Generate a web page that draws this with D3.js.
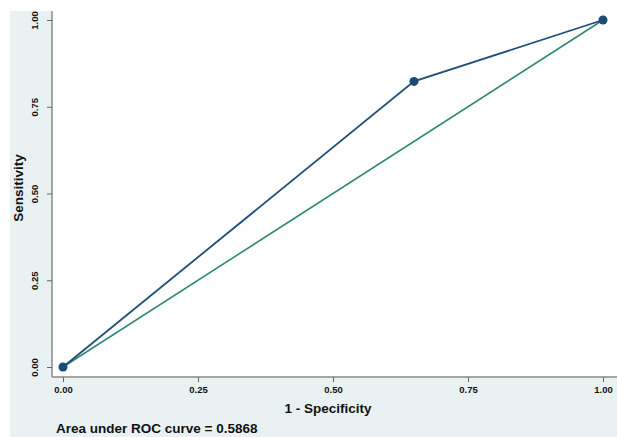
<!DOCTYPE html>
<html>
<head>
<meta charset="utf-8">
<script src="https://cdn.jsdelivr.net/npm/d3@7"></script>
<style>
  body { margin: 0; background: #fff; }
  text { font-family: "Liberation Sans", Arial, sans-serif; font-weight: bold; fill: #111; }
</style>
</head>
<body>
<script>
// ROC points (1 - specificity, sensitivity)
var fpr = [0, 0.65, 1];
var tpr = [0, 0.823, 1];
var refLine = [0, 1];
var tickValues = [0, 0.25, 0.5, 0.75, 1];
var aucText = "Area under ROC curve = 0.5868";

var width = 617, height = 437;
var margin = { left: 52, top: 11, right: 0, bottom: 60 };

var svg = d3.select("body").append("svg")
    .attr("width", width)
    .attr("height", height);

// outer graph region
svg.append("rect")
    .attr("x", 10).attr("y", 11)
    .attr("width", width - 10).attr("height", height - 11)
    .attr("fill", "#e9f1f2");

// plot region
svg.append("rect")
    .attr("x", margin.left).attr("y", margin.top)
    .attr("width", width - margin.left).attr("height", 377 - margin.top)
    .attr("fill", "#fff");

var x = d3.scaleLinear().domain([0, 1]).range([63, 603]);
var y = d3.scaleLinear().domain([0, 1]).range([367, 20]);

var xAxis = svg.append("g")
    .attr("transform", "translate(0,377)")
    .call(d3.axisBottom(x).tickValues(tickValues).tickFormat(d3.format(".2f")).tickSize(5).tickPadding(4));
xAxis.select(".domain").attr("d", "M" + margin.left + ",0H" + width).attr("stroke", "#8a8a8a").attr("stroke-width", 1.5);
xAxis.selectAll(".tick line").attr("stroke", "#666");
xAxis.selectAll(".tick text").attr("font-size", 9.5).attr("font-family", null);

var yAxis = svg.append("g")
    .attr("transform", "translate(" + margin.left + ",0)")
    .call(d3.axisLeft(y).tickValues(tickValues).tickFormat(d3.format(".2f")).tickSize(5));
yAxis.select(".domain").attr("d", "M0," + margin.top + "V377").attr("stroke", "#8a8a8a").attr("stroke-width", 1.5);
yAxis.selectAll(".tick line").attr("stroke", "#666");
yAxis.selectAll(".tick text")
    .attr("font-size", 9.5).attr("font-family", null)
    .attr("x", null).attr("dy", null)
    .attr("text-anchor", "middle")
    .attr("transform", "translate(-14,0) rotate(-90)");

// reference line
svg.append("line")
    .attr("x1", x(refLine[0])).attr("y1", y(refLine[0]))
    .attr("x2", x(refLine[1])).attr("y2", y(refLine[1]))
    .attr("stroke", "#2f8a72").attr("stroke-width", 1.6);

var pts = fpr.map(function(d, i) { return [d, tpr[i]]; });

svg.append("path")
    .datum(pts)
    .attr("fill", "none")
    .attr("stroke", "#1f4e79")
    .attr("stroke-width", 1.8)
    .attr("d", d3.line().x(function(d) { return x(d[0]); }).y(function(d) { return y(d[1]); }));

svg.selectAll(".pt")
    .data(pts)
    .enter().append("circle")
    .attr("cx", function(d) { return x(d[0]); })
    .attr("cy", function(d) { return y(d[1]); })
    .attr("r", 4.5)
    .attr("fill", "#1c4a74");

svg.append("text")
    .attr("x", 328).attr("y", 413)
    .attr("text-anchor", "middle")
    .attr("font-size", 13.5)
    .text("1 - Specificity");

svg.append("text")
    .attr("transform", "translate(23,188) rotate(-90)")
    .attr("text-anchor", "middle")
    .attr("font-size", 13.5)
    .text("Sensitivity");

svg.append("text")
    .attr("x", 56).attr("y", 433)
    .attr("font-size", 13.5)
    .text(aucText);
</script>
</body>
</html>
